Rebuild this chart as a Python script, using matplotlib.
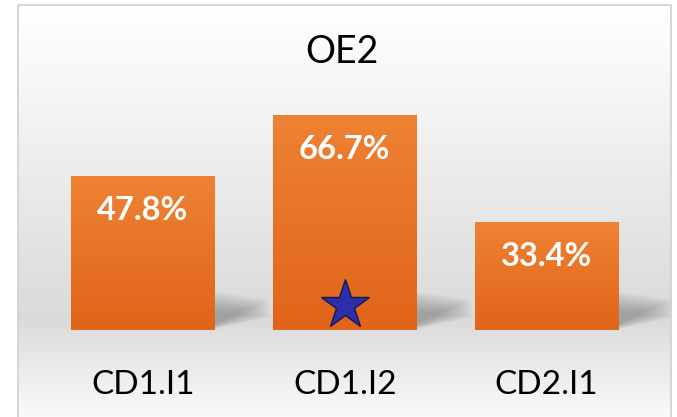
import numpy as np
import matplotlib
matplotlib.use("Agg")
import matplotlib.pyplot as plt
from matplotlib.patches import Rectangle
from matplotlib.colors import LinearSegmentedColormap

title = "OE2"
categories = ["CD1.I1", "CD1.I2", "CD2.I1"]
values = [47.8, 66.7, 33.4]
value_labels = ["47.8%", "66.7%", "33.4%"]
star_category = 1

W, H = 677, 417
fig = plt.figure(figsize=(W / 100, H / 100), dpi=100)
fig.patch.set_facecolor("white")

# background gradient
bg = fig.add_axes([0, 0, 1, 1], zorder=0)
bg.set_xlim(0, W)
bg.set_ylim(H, 0)
bg.axis("off")
ys = np.array([0, 20, 120, 250, 320, 340, 400, 417])
cs = np.array([255, 253, 242, 226, 218, 226, 245, 250]) / 255.0
yy = np.linspace(0, H, 417)
col = np.interp(yy, ys, cs)
img = np.repeat(col[:, None], 2, axis=1)
img = np.stack([img, img, img], axis=-1)
bg.imshow(img, extent=[18, 671, H, 5], aspect="auto", interpolation="bilinear", zorder=0)
bg.add_patch(Rectangle((18, 5), 653, 420, fill=False, ec="#d0d0d0", lw=1.2, zorder=1))

# main axes: y=0 at pixel 330, 3.22 px per unit
ax = fig.add_axes([14 / W, (H - 330) / H, 657 / W, (330 - 6) / H], zorder=1)
ax.patch.set_alpha(0)
xlim = (-(143 - 14) / 202, 2 + (671 - 546.5) / 202)
ylim = (0, (330 - 6) / 3.22)
ax.axis("off")

x = np.arange(len(categories))
width = 144 / 202

# soft shadows to the right of bars
for xi in x:
    for k in range(14):
        ax.add_patch(plt.Polygon(
            [(xi + width / 2, 0.3 + k * 0.12),
             (xi + width / 2 + 0.27 - k * 0.012, 4.0 + k * 0.1),
             (xi + width / 2 + 0.27 - k * 0.012, 9.5 - k * 0.3),
             (xi + width / 2, 12 - k * 0.5)],
            closed=True, fc="#555555", ec="none", alpha=0.035, zorder=1))

bars = ax.bar(x, values, width=width, color="#e86f22", zorder=2)
cmap = LinearSegmentedColormap.from_list("o", ["#e06419", "#ee8234"])
grad = np.linspace(0, 1, 256)[:, None]
for b in bars:
    x0, y0 = b.get_x(), b.get_y()
    im = ax.imshow(grad, cmap=cmap, origin="lower", aspect="auto",
                   extent=[x0, x0 + b.get_width(), y0, y0 + b.get_height()], zorder=3)
    im.set_clip_path(b)
ax.set_xlim(*xlim)
ax.set_ylim(*ylim)

font = ["Lato", "DejaVu Sans"]
for xi, v, lab in zip(x, values, value_labels):
    ax.annotate(lab, (xi, v), xytext=(0, -24.5), textcoords="offset points",
                ha="center", va="center", color="white", fontsize=23.5,
                fontweight="bold", family=font, zorder=5)
    ax.annotate(categories[xi], (xi, 0), xytext=(0, -39.6), textcoords="offset points",
                ha="center", va="center", color="black", fontsize=24,
                family=font, zorder=5, annotation_clip=False)

ax.plot(x[star_category], 7.8, marker="*", ms=37, color="#2b30a8",
        mec="#15184f", mew=1, zorder=6)

fig.text(342 / W, 1 - 52 / H, title, ha="center", va="center", fontsize=27,
         family=font, color="black")

fig.savefig("out.png", dpi=100)
